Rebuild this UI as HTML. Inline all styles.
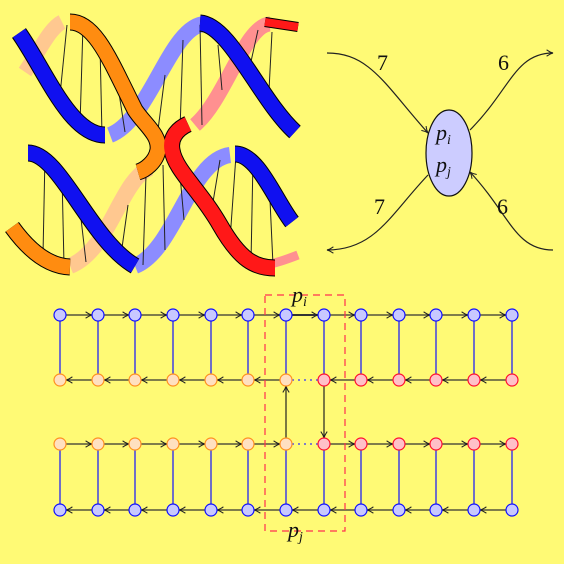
<!DOCTYPE html>
<html><head><meta charset="utf-8"><style>
html,body{margin:0;padding:0;background:#fffa75;}
svg{display:block;font-family:"Liberation Serif",serif;}
</style></head><body>
<svg id="root" width="564" height="564" viewBox="0 0 564 564" xmlns="http://www.w3.org/2000/svg">
<defs>
<marker id="ar" viewBox="0 0 10 10" refX="9" refY="5" markerWidth="8" markerHeight="8" markerUnits="userSpaceOnUse" orient="auto">
<path d="M1,1 Q5,4 9,5 Q5,6 1,9" fill="none" stroke="#222" stroke-width="1.3"/>
</marker>
</defs>
<rect width="564" height="564" fill="#fffa75"/>

<g fill="none" stroke-linecap="butt">
 <path d="M25,72 C40,50 50,28 62,22" stroke="#ffc890" stroke-width="15"/>
 <path d="M110,135 C150,120 170,25 205,24" stroke="#8c8cff" stroke-width="16"/>
 <path d="M195,125 C225,100 245,25 270,24" stroke="#ff9090" stroke-width="15"/>
 <path d="M70,266 C110,250 120,180 150,168" stroke="#ffc890" stroke-width="16"/>
 <path d="M135,266 C175,250 190,160 230,155" stroke="#8c8cff" stroke-width="16"/>
 <path d="M270,264 C280,262 290,258 298,255" stroke="#ff9090" stroke-width="9"/>
 <g stroke="#222" stroke-width="1">
  <line x1="67" y1="25" x2="60" y2="95"/><line x1="83" y1="25" x2="80" y2="125"/>
  <line x1="100" y1="45" x2="102" y2="135"/><line x1="117" y1="80" x2="125" y2="132"/>
  <line x1="165" y1="75" x2="158" y2="130"/><line x1="183" y1="40" x2="180" y2="130"/>
  <line x1="200" y1="25" x2="202" y2="125"/><line x1="218" y1="45" x2="222" y2="90"/>
  <line x1="258" y1="30" x2="248" y2="75"/><line x1="272" y1="32" x2="268" y2="110"/>
  <line x1="45" y1="155" x2="43" y2="255"/><line x1="62" y1="175" x2="64" y2="265"/>
  <line x1="80" y1="210" x2="86" y2="262"/><line x1="128" y1="205" x2="120" y2="262"/>
  <line x1="146" y1="175" x2="143" y2="265"/><line x1="163" y1="165" x2="165" y2="250"/>
  <line x1="180" y1="175" x2="184" y2="220"/><line x1="220" y1="160" x2="210" y2="220"/>
  <line x1="236" y1="155" x2="230" y2="240"/><line x1="253" y1="160" x2="251" y2="262"/>
  <line x1="270" y1="200" x2="273" y2="265"/>
 </g>
 <g stroke="#000" stroke-width="17">
  <path d="M19,33 C45,70 70,135 105,135"/>
  <path d="M70,22 C95,22 110,60 135,110 C145,125 160,135 158,150 C156,162 145,170 138,172"/>
  <path d="M200,23 C230,25 260,100 295,132"/>
  <path d="M188,124 C175,130 170,140 172,150 C175,170 200,190 220,225 C240,260 255,268 275,268"/>
  <path d="M28,153 C60,153 90,240 135,266"/>
  <path d="M235,154 C258,154 275,200 292,222"/>
  <path d="M12,227 C25,245 45,266 70,267"/>
 </g>
 <path d="M265,22 L298,27" stroke="#000" stroke-width="10"/>
 <path d="M19,33 C45,70 70,135 105,135" stroke="#1010f0" stroke-width="15"/>
 <path d="M70,22 C95,22 110,60 135,110 C145,125 160,135 158,150 C156,162 145,170 138,172" stroke="#ff8c10" stroke-width="15"/>
 <path d="M200,23 C230,25 260,100 295,132" stroke="#1010f0" stroke-width="15"/>
 <path d="M188,124 C175,130 170,140 172,150 C175,170 200,190 220,225 C240,260 255,268 275,268" stroke="#ff1818" stroke-width="15"/>
 <path d="M28,153 C60,153 90,240 135,266" stroke="#1010f0" stroke-width="15"/>
 <path d="M235,154 C258,154 275,200 292,222" stroke="#1010f0" stroke-width="15"/>
 <path d="M12,227 C25,245 45,266 70,267" stroke="#ff8c10" stroke-width="15"/>
 <path d="M265,22 L298,27" stroke="#ff1818" stroke-width="8"/>
</g>

<g fill="none" stroke="#222" stroke-width="1.2">
 <path d="M327,53 C370,53 385,85 428,133" marker-end="url(#ar)"/>
 <path d="M470,130 C510,90 515,53 553,53" marker-end="url(#ar)"/>
 <path d="M428,175 C390,215 375,250 327,250" marker-end="url(#ar)"/>
 <path d="M553,250 C515,250 510,215 470,172" marker-end="url(#ar)"/>
 <ellipse cx="449" cy="153" rx="23" ry="43" fill="#ccccff" stroke="#111"/>
 <g font-style="italic" font-size="22" fill="#111" stroke="none">
  <text x="436" y="140">p<tspan font-size="14" dy="4">i</tspan></text>
  <text x="436" y="172">p<tspan font-size="14" dy="4">j</tspan></text>
 </g>
 <g font-size="22" fill="#111" stroke="none">
  <text x="377" y="70">7</text>
  <text x="498" y="70">6</text>
  <text x="374" y="214">7</text>
  <text x="497" y="214">6</text>
 </g>
</g>

<g id="grid"></g>
<rect x="265" y="295" width="80" height="236" fill="none" stroke="#ff3050" stroke-width="1.2" stroke-dasharray="7,5"/>
<text x="292" y="302" font-style="italic" font-size="22" fill="#111">p<tspan font-size="14" dy="4">i</tspan></text>
<text x="288" y="537" font-style="italic" font-size="22" fill="#111">p<tspan font-size="14" dy="4">j</tspan></text>
</svg>
<script>
const colX=[60,98,135,173,211,248,286,324,361,399,436,474,512];
const rowY=[315,380,444,510];
const rowDir=[1,-1,1,-1];
const NS='http://www.w3.org/2000/svg';
const g=document.getElementById('grid');
function mk(t,a){const e=document.createElementNS(NS,t);for(const k in a)e.setAttribute(k,a[k]);g.appendChild(e);return e;}
colX.forEach((x,i)=>{
 [[0,1],[2,3]].forEach(p=>{
  const l=mk('line',{x1:x,y1:rowY[p[0]],x2:x,y2:rowY[p[1]],stroke:'#1010ff','stroke-width':1.2});
  
  
 });
});
rowY.forEach((y,r)=>{
 for(let i=0;i<colX.length-1;i++){
  let a=colX[i],b=colX[i+1];
  if((r===1||r===2)&&i===6){
   const d=mk('line',{x1:a+6,y1:y,x2:b-6,y2:y,stroke:'#3030ff','stroke-width':1.2,'stroke-dasharray':'2,4'});
   
   
   continue;
  }
  let s=rowDir[r]>0?a+6:b-6, e=rowDir[r]>0?b-6:a+6;
  const l=mk('line',{x1:s,y1:y,x2:e,y2:y,stroke:'#333','stroke-width':(r===0&&i===6)?2:1.3,'marker-end':'url(#ar)'});
  
  
 }
});
let c1=mk('line',{x1:colX[6],y1:rowY[2]-6,x2:colX[6],y2:rowY[1]+6,stroke:'#222','stroke-width':1.2,'marker-end':'url(#ar)'});


let c2=mk('line',{x1:colX[7],y1:rowY[1]+6,x2:colX[7],y2:rowY[2]-6,stroke:'#222','stroke-width':1.2,'marker-end':'url(#ar)'});


rowY.forEach((y,r)=>{
 colX.forEach((x,i)=>{
  let fill='#c8c8ff',st='#1010ff';
  if(r===1||r===2){ if(i<=6){fill='#ffe0c0';st='#ff9020';} else {fill='#ffc0c8';st='#ff1030';} }
  const c=mk('circle',{cx:x,cy:y,r:6,fill:fill,stroke:st,'stroke-width':1.2});
  
  
 });
});
</script>
</body></html>
